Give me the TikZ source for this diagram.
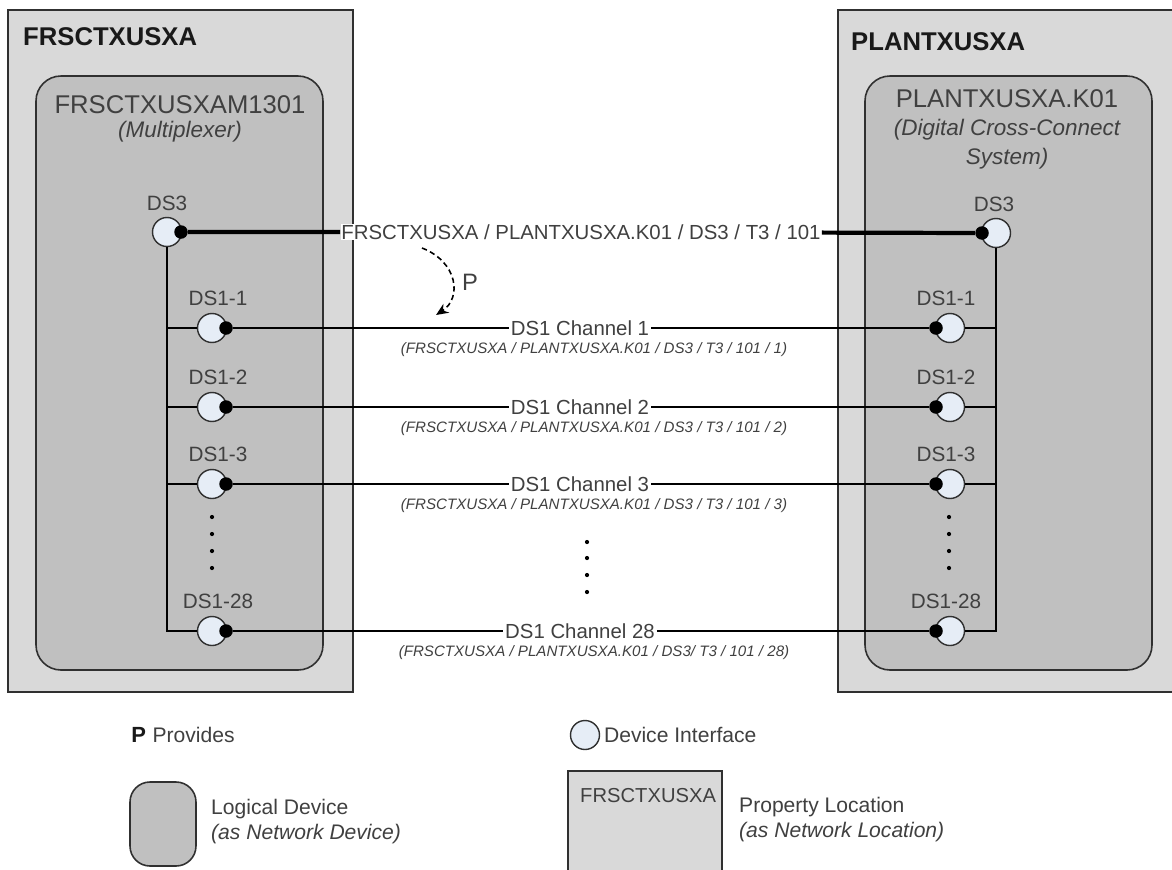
\documentclass[tikz,border=0pt]{standalone}
\usepackage{fontspec}
\setmainfont{Liberation Sans}
\usetikzlibrary{arrows.meta}

\definecolor{locgray}{HTML}{D9D9D9}
\definecolor{devgray}{HTML}{C0C0C0}
\definecolor{ifcblue}{HTML}{E6EDF6}
\definecolor{txtgray}{HTML}{404040}
\definecolor{edgegray}{HTML}{303030}

\tikzset{
  location/.style={draw=edgegray, fill=locgray, line width=0.9pt},
  device/.style={draw=edgegray, fill=devgray, line width=0.9pt, rounded corners=0.5cm},
  ifc/.style={circle, draw=edgegray, fill=ifcblue, line width=0.8pt, minimum size=0.58cm, inner sep=0pt},
  plug/.style={circle, fill=black, minimum size=0.27cm, inner sep=0pt},
  loctitle/.style={anchor=west, text=black!90, font=\bfseries\fontsize{14.6}{17}\selectfont},
  devtitle/.style={text=txtgray, font=\fontsize{14.6}{17}\selectfont},
  devsub/.style={text=txtgray, align=center, font=\itshape\fontsize{12.8}{16.5}\selectfont},
  portlbl/.style={text=txtgray, font=\fontsize{11.8}{14}\selectfont},
  chanlbl/.style={text=txtgray, fill=white, inner sep=1pt, font=\fontsize{11.6}{14}\selectfont},
  chansub/.style={text=txtgray, inner sep=1pt, font=\itshape\fontsize{8.6}{10}\selectfont},
  legtext/.style={anchor=west, text=txtgray, align=left, font=\fontsize{12}{14.2}\selectfont},
  trunk/.style={line width=2.4pt},
  chan/.style={line width=1.2pt},
  bus/.style={line width=1pt}
}

\begin{document}
\begin{tikzpicture}[x=0.02cm, y=-0.02cm]
  \useasboundingbox (0,0) rectangle (1172,869);
  \clip (0,0) rectangle (1172,869);

  % locations and devices
  \draw[location] (8,10) rectangle (353,692);
  \draw[location] (838,10) rectangle (1190,692);
  \draw[device] (36,76) rectangle (323,670);
  \draw[device] (865,76) rectangle (1152,670);
  \node[loctitle] (locL) at (17,37) {FRSCTXUSXA};
  \node[loctitle] (locR) at (845,42) {PLANTXUSXA};
  \node[devtitle] (devL) at (180,105) {FRSCTXUSXAM1301};
  \node[devsub] (devLsub) at (180,132) {(Multiplexer)};
  \node[devtitle] (devR) at (1007,99) {PLANTXUSXA.K01};
  \node[devsub] (devRsub) at (1007,144) {(Digital Cross-Connect\\System)};

  % DS3 interfaces
  \node[ifc] (ds3L) at (167,232) {};
  \node[plug] (ds3Lp) at (181,232) {};
  \node[portlbl] at (167,203) {DS3};
  \node[ifc] (ds3R) at (996,233) {};
  \node[plug] (ds3Rp) at (982,233) {};
  \node[portlbl] at (994,204) {DS3};
  \node[chanlbl, inner sep=0.5pt] (ds3lbl) at (581,232) {FRSCTXUSXA / PLANTXUSXA.K01 / DS3 / T3 / 101};
  \draw[trunk] (ds3Lp) -- (ds3lbl) -- (ds3Rp);

  % DS1 channels
  \foreach \n/\y/\ds in {1/328/{DS3 / T3}, 2/407/{DS3 / T3}, 3/484/{DS3 / T3}, 28/631/{DS3/ T3}} {
    \node[portlbl] at (218,\y-30) {DS1-\n};
    \node[portlbl] at (946,\y-30) {DS1-\n};
    \node[ifc] (L\n) at (212,\y) {};
    \node[plug] (Lp\n) at (226,\y) {};
    \node[ifc] (R\n) at (950,\y) {};
    \node[plug] (Rp\n) at (936,\y) {};
    \node[chanlbl] (ch\n) at (580,\y) {DS1 Channel \n};
    \node[chansub] (chs\n) at (594,\y+22) {(FRSCTXUSXA / PLANTXUSXA.K01 / \ds{} / 101 / \n)};
    \draw[chan] (Lp\n) -- (ch\n) -- (Rp\n);
    \draw[bus] (L\n.west -| ds3L.south) -- (L\n.west);
    \draw[bus] (R\n.east) -- (R\n.east -| ds3R.south);
  }
  \draw[bus] (ds3L.south) |- (L28.west);
  \draw[bus] (ds3R.south) |- (R28.east);

  % ellipsis dots
  \foreach \yy in {517,534,551,568} {
    \fill (212,\yy) circle (1.2pt);
    \fill (949,\yy) circle (1.2pt);
  }
  \foreach \yy in {542,558,575,592}
    \fill (587,\yy) circle (1.2pt);

  % provides arrow
  \coordinate (pfrom) at (422,248);
  \coordinate (pto) at (436,315);
  \draw[densely dashed, line width=0.9pt, -{Stealth[length=7pt,width=6pt]}] (pfrom) .. controls (458,262) and (462,298) .. (pto);
  \node[text=txtgray, font=\fontsize{13.5}{16}\selectfont] (provP) at (470,282) {P};

  % legend
  \node[anchor=west, inner sep=0pt, text=black!90, font=\bfseries\fontsize{12.5}{15}\selectfont] (legP) at (131,735) {P};
  \node[legtext] (legPtxt) at (legP.east) {Provides};
  \node[ifc] (legifc) at (585,735) {};
  \node[legtext, inner sep=2pt] (legifctxt) at (legifc.east) {Device Interface};
  \draw[device, rounded corners=0.4cm] (130,782) rectangle (196,866);
  \node[legtext] (legdev) at (205,822) {Logical Device\\\textit{(as Network Device)}};
  \draw[location] (568,771) rectangle (722,900);
  \node[anchor=north west, text=txtgray, font=\fontsize{11.5}{14}\selectfont] (legloctitle) at (574,782) {FRSCTXUSXA};
  \node[legtext] (legloc) at (733,820) {Property Location\\\textit{(as Network Location)}};
\end{tikzpicture}
\end{document}
